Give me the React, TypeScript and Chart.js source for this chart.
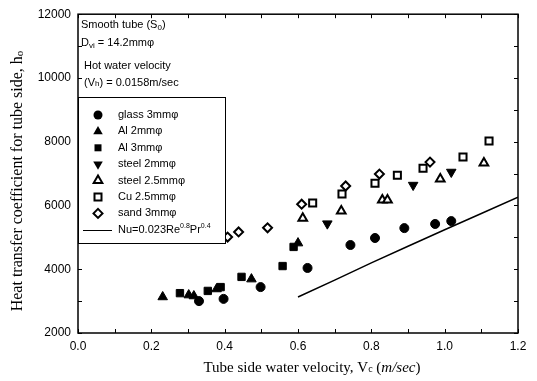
import React, { useEffect, useRef } from 'react';
import { Chart, registerables } from 'chart.js';
Chart.register(...registerables);

// ---- data ----
const glassX = [0.33, 0.397, 0.498, 0.626, 0.743, 0.81, 0.89, 0.974, 1.018];
const glassY = [3000, 3070, 3440, 4040, 4760, 4980, 5290, 5420, 5510];
const al2X = [0.231, 0.302, 0.316, 0.378, 0.473, 0.6];
const al2Y = [3130, 3190, 3160, 3380, 3690, 4820];
const al3X = [0.278, 0.354, 0.389, 0.446, 0.558, 0.588];
const al3Y = [3250, 3320, 3440, 3760, 4100, 4700];
const steel2X = [0.68, 0.914, 1.018];
const steel2Y = [5430, 6640, 7050];
const steel25X = [0.613, 0.718, 0.83, 0.844, 0.988, 1.107];
const steel25Y = [5600, 5830, 6170, 6170, 6830, 7330];
const cuX = [0.64, 0.72, 0.81, 0.871, 0.941, 1.05, 1.121];
const cuY = [6075, 6360, 6700, 6950, 7170, 7520, 8020];
const sandX = [0.408, 0.438, 0.517, 0.61, 0.73, 0.822, 0.96];
const sandY = [5010, 5170, 5300, 6040, 6610, 6985, 7360];
const nuX = [0.6, 0.7, 0.8, 0.9, 1.0, 1.1, 1.2];
const nuY = [3130, 3660, 4200, 4720, 5240, 5750, 6260];

const legendLabels = ['glass 3mmφ', 'Al 2mmφ', 'Al 3mmφ', 'steel 2mmφ', 'steel 2.5mmφ', 'Cu 2.5mmφ', 'sand 3mmφ'];
const xTickValues = [0, 0.1, 0.2, 0.3, 0.4, 0.5, 0.6, 0.7, 0.8, 0.9, 1.0, 1.1, 1.2];
const yTickValues = [2000, 3000, 4000, 5000, 6000, 7000, 8000, 9000, 10000, 11000, 12000];

const SANS = '"Liberation Sans", Arial, sans-serif';
const SERIF = '"Liberation Serif", "Times New Roman", serif';

type Part = { t: string; font: string; dy?: number };

function drawRich(ctx: CanvasRenderingContext2D, parts: Part[], x: number, y: number, align: 'left' | 'center') {
  let total = 0;
  for (const p of parts) { ctx.font = p.font; total += ctx.measureText(p.t).width; }
  let cx = align === 'center' ? x - total / 2 : x;
  ctx.textAlign = 'left';
  ctx.textBaseline = 'middle';
  for (const p of parts) {
    ctx.font = p.font;
    ctx.fillText(p.t, cx, y + (p.dy || 0));
    cx += ctx.measureText(p.t).width;
  }
}

function marker(ctx: CanvasRenderingContext2D, kind: string, x: number, y: number) {
  ctx.save();
  ctx.lineWidth = 2;
  ctx.strokeStyle = '#000';
  ctx.fillStyle = '#000';
  ctx.beginPath();
  const open = kind.startsWith('open');
  if (kind === 'circle') {
    ctx.arc(x, y, 4.5, 0, Math.PI * 2);
  } else if (kind === 'tri' || kind === 'openTri') {
    const r = kind === 'tri' ? 5.5 : 5;
    ctx.moveTo(x, y - r);
    ctx.lineTo(x + r * 0.866, y + r * 0.5);
    ctx.lineTo(x - r * 0.866, y + r * 0.5);
    ctx.closePath();
  } else if (kind === 'downTri') {
    const r = 5.5;
    ctx.moveTo(x, y + r);
    ctx.lineTo(x + r * 0.866, y - r * 0.5);
    ctx.lineTo(x - r * 0.866, y - r * 0.5);
    ctx.closePath();
  } else if (kind === 'square' || kind === 'openSquare') {
    ctx.rect(x - 3.5, y - 3.5, 7, 7);
  } else if (kind === 'openDiamond') {
    const r = 4.5;
    ctx.moveTo(x, y - r);
    ctx.lineTo(x + r, y);
    ctx.lineTo(x, y + r);
    ctx.lineTo(x - r, y);
    ctx.closePath();
  }
  if (open) {
    ctx.fillStyle = '#fff';
    ctx.fill();
    ctx.stroke();
  } else {
    ctx.fill();
  }
  ctx.restore();
}

const legendKinds = ['circle', 'tri', 'square', 'downTri', 'openTri', 'openSquare', 'openDiamond'];

export default function App() {
  const ref = useRef<HTMLCanvasElement>(null);
  useEffect(() => {
    document.body.style.margin = '0';
    const pts = (xs: number[], ys: number[]) => xs.map((x, i) => ({ x, y: ys[i] }));

    const decor = {
      id: 'decor',
      afterDraw(chart: any) {
        const ctx: CanvasRenderingContext2D = chart.ctx;
        const { left, right, top, bottom } = chart.chartArea;
        const xs = chart.scales.x;
        const ys = chart.scales.y;
        ctx.save();
        ctx.strokeStyle = '#000';
        ctx.lineWidth = 1.5;
        ctx.strokeRect(left, top, right - left, bottom - top);
        ctx.lineWidth = 1;
        ctx.beginPath();
        for (const v of xTickValues) {
          const px = Math.round(xs.getPixelForValue(v)) + 0.5;
          ctx.moveTo(px, bottom); ctx.lineTo(px, bottom - 4);
          ctx.moveTo(px, top); ctx.lineTo(px, top + 4);
        }
        for (const v of yTickValues) {
          const py = Math.round(ys.getPixelForValue(v)) + 0.5;
          ctx.moveTo(left, py); ctx.lineTo(left + 4, py);
          ctx.moveTo(right, py); ctx.lineTo(right - 4, py);
        }
        ctx.stroke();

        // annotation
        ctx.fillStyle = '#000';
        const f = `11px ${SANS}`;
        const fs = `8px ${SANS}`;
        drawRich(ctx, [{ t: 'Smooth tube (S', font: f }, { t: '0', font: fs, dy: 3 }, { t: ')', font: f }], left + 3, 25, 'left');
        drawRich(ctx, [{ t: 'D', font: f }, { t: 'vi', font: fs, dy: 3 }, { t: ' = 14.2mmφ', font: f }], left + 3, 43, 'left');
        drawRich(ctx, [{ t: 'Hot water velocity', font: f }], left + 6, 66, 'left');
        drawRich(ctx, [{ t: '(V', font: f }, { t: 'h', font: fs, dy: 1 }, { t: ') = 0.0158m/sec', font: f }], left + 6, 83, 'left');

        // legend box
        const bx = left, by = 97, bw = 147, bh = 146;
        ctx.fillStyle = '#fff';
        ctx.fillRect(bx, by, bw, bh);
        ctx.lineWidth = 1;
        ctx.strokeRect(bx + 0.5, by + 0.5, bw, bh);
        ctx.fillStyle = '#000';
        for (let i = 0; i < legendLabels.length; i++) {
          const yy = 115 + i * 16.4;
          marker(ctx, legendKinds[i], bx + 20, yy);
          ctx.fillStyle = '#000';
          drawRich(ctx, [{ t: legendLabels[i], font: f }], bx + 40, yy, 'left');
        }
        const ly = 115 + 7 * 16.4;
        ctx.beginPath();
        ctx.moveTo(bx + 5, Math.round(ly) + 0.5);
        ctx.lineTo(bx + 34, Math.round(ly) + 0.5);
        ctx.stroke();
        drawRich(ctx, [
          { t: 'Nu=0.023Re', font: f },
          { t: '0.8', font: `7px ${SANS}`, dy: -4 },
          { t: 'Pr', font: f },
          { t: '0.4', font: `7px ${SANS}`, dy: -4 },
        ], bx + 40, ly, 'left');

        // axis titles
        const tf = `15px ${SERIF}`;
        const tfs = `10px ${SERIF}`;
        drawRich(ctx, [
          { t: 'Tube side water velocity, V', font: tf },
          { t: 'c', font: tfs, dy: 1 },
          { t: ' (', font: tf },
          { t: 'm/sec', font: `italic 15px ${SERIF}` },
          { t: ')', font: tf },
        ], 312, 368, 'center');
        ctx.save();
        ctx.translate(18, 181);
        ctx.rotate(-Math.PI / 2);
        drawRich(ctx, [
          { t: 'Heat transfer coefficient for tube side, h', font: `16px ${SERIF}` },
          { t: 'o', font: `11px ${SERIF}`, dy: 2 },
        ], 0, 0, 'center');
        ctx.restore();
        ctx.restore();
      },
    };

    const filled = (label: string, data: any, style: any, radius: number, rotation = 0) => ({
      label, data, pointStyle: style, pointRadius: radius, rotation,
      pointBackgroundColor: '#000', pointBorderColor: '#000', pointBorderWidth: 1, showLine: false,
    });
    const open = (label: string, data: any, style: any, radius: number) => ({
      label, data, pointStyle: style, pointRadius: radius,
      pointBackgroundColor: '#fff', pointBorderColor: '#000', pointBorderWidth: 2, showLine: false,
    });

    const chart = new Chart(ref.current as HTMLCanvasElement, {
      type: 'scatter',
      data: {
        datasets: [
          {
            label: 'Nu', data: pts(nuX, nuY), showLine: true, borderColor: '#000', borderWidth: 1.5,
            pointRadius: 0, tension: 0,
          } as any,
          filled(legendLabels[0], pts(glassX, glassY), 'circle', 4.5),
          filled(legendLabels[1], pts(al2X, al2Y), 'triangle', 5.5),
          filled(legendLabels[2], pts(al3X, al3Y), 'rect', 5.2),
          filled(legendLabels[3], pts(steel2X, steel2Y), 'triangle', 5.5, 180),
          open(legendLabels[4], pts(steel25X, steel25Y), 'triangle', 5),
          open(legendLabels[5], pts(cuX, cuY), 'rect', 5),
          open(legendLabels[6], pts(sandX, sandY), 'rectRot', 4.5),
        ],
      },
      options: {
        animation: false,
        responsive: false,
        layout: { padding: { left: 0, right: 19, top: 13, bottom: 0 } },
        plugins: { legend: { display: false }, tooltip: { enabled: false } },
        scales: {
          x: {
            type: 'linear', min: 0, max: 1.2,
            afterBuildTicks: (s: any) => { s.ticks = xTickValues.map((v) => ({ value: v })); },
            ticks: {
              autoSkip: false, maxRotation: 0, color: '#000', padding: 6,
              font: { family: SANS, size: 12 },
              callback: (v: any) => { const n = Math.round(Number(v) * 10); return n % 2 === 0 ? (n / 10).toFixed(1) : ''; },
            },
            grid: { display: false, drawTicks: false },
            border: { display: false },
            afterFit: (s: any) => { s.height = 48; },
          },
          y: {
            type: 'linear', min: 2000, max: 12000,
            afterBuildTicks: (s: any) => { s.ticks = yTickValues.map((v) => ({ value: v })); },
            ticks: {
              autoSkip: false, color: '#000', padding: 7,
              font: { family: SANS, size: 12 },
              callback: (v: any) => (Number(v) % 2000 === 0 ? String(v) : ''),
            },
            grid: { display: false, drawTicks: false },
            border: { display: false },
            afterFit: (s: any) => { s.width = 78; },
          },
        },
      },
      plugins: [decor],
    });
    return () => chart.destroy();
  }, []);
  return <canvas ref={ref} width={537} height={381} style={{ display: 'block' }} />;
}
